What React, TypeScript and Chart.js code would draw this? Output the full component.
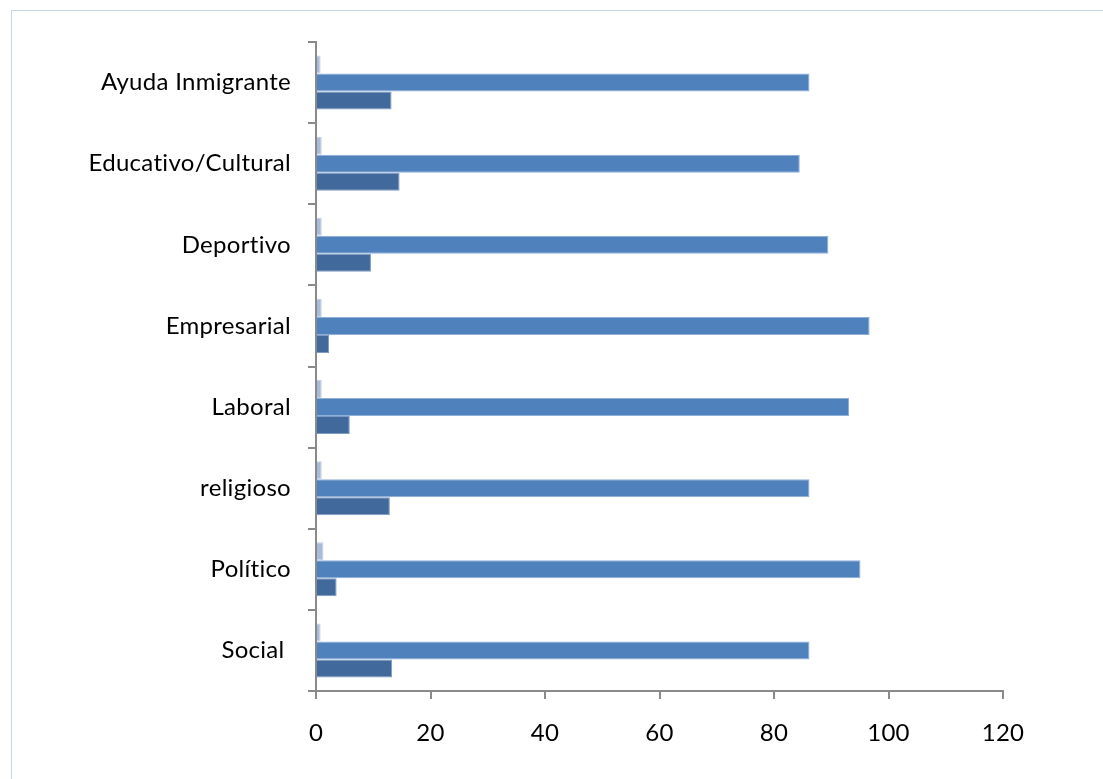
import React, { useEffect, useRef } from "react";
import { Chart, registerables } from "chart.js";

Chart.register(...registerables);

const categories = [
  "Ayuda Inmigrante",
  "Educativo/Cultural",
  "Deportivo",
  "Empresarial",
  "Laboral",
  "religioso",
  "Político",
  "Social ",
];

const seriesLight = [0.8, 1.0, 1.0, 1.0, 1.0, 1.0, 1.3, 0.8];
const seriesMain = [86.2, 84.5, 89.5, 96.7, 93.1, 86.2, 95.1, 86.2];
const seriesDark = [13.2, 14.6, 9.6, 2.3, 5.9, 12.9, 3.6, 13.3];

const xTicks = [0, 20, 40, 60, 80, 100, 120];

const FONT = "Lato";

const noLigatures = {
  id: "noLigatures",
  beforeLayout(chart: any) {
    chart.ctx.letterSpacing = "0.3px";
  },
  beforeDraw(chart: any) {
    chart.ctx.letterSpacing = "0.3px";
  },
};

export default function App() {
  const ref = useRef<HTMLCanvasElement | null>(null);

  useEffect(() => {
    if (!ref.current) return;
    const chart = new Chart(ref.current, {
      type: "bar",
      plugins: [noLigatures],
      data: {
        labels: categories,
        datasets: [
          {
            label: "s1",
            data: seriesLight,
            backgroundColor: "#AABBDA",
            borderColor: "#C3D0E6",
            borderWidth: 1,
          },
          {
            label: "s2",
            data: seriesMain,
            backgroundColor: "#4F81BD",
            borderColor: "#8FAFD8",
            borderWidth: 1,
          },
          {
            label: "s3",
            data: seriesDark,
            backgroundColor: "#41699C",
            borderColor: "#7D9BC4",
            borderWidth: 1,
          },
        ],
      },
      options: {
        indexAxis: "y",
        animation: false,
        responsive: false,
        maintainAspectRatio: false,
        datasets: {
          bar: { categoryPercentage: 0.667, barPercentage: 1.0 },
        },
        layout: { padding: { top: 42, left: 0, right: 100, bottom: 0 } },
        plugins: {
          legend: { display: false },
          tooltip: { enabled: false },
        },
        scales: {
          x: {
            type: "linear",
            min: 0,
            max: 120,
            afterBuildTicks: (scale: any) => {
              scale.ticks = xTicks.map((v) => ({ value: v }));
            },
            afterFit: (scale: any) => {
              scale.height = 88;
            },
            border: { display: true, color: "#8A8A8A", width: 2 },
            grid: {
              drawOnChartArea: false,
              drawTicks: true,
              tickLength: 8,
              color: "#8A8A8A",
              lineWidth: 2,
            },
            ticks: {
              color: "#000",
              padding: 20,
              font: { family: FONT, size: 24 },
              maxRotation: 0,
            },
          },
          y: {
            type: "category",
            afterFit: (scale: any) => {
              scale.width = 316;
            },
            border: { display: true, color: "#8A8A8A", width: 2 },
            grid: {
              offset: true,
              drawOnChartArea: false,
              drawTicks: true,
              tickLength: 8,
              color: "#8A8A8A",
              lineWidth: 2,
            },
            ticks: {
              color: "#000",
              padding: 17,
              font: { family: FONT, size: 24 },
            },
          },
        },
      },
    });
    return () => chart.destroy();
  }, []);

  return (
    <div
      style={{
        position: "absolute",
        left: 0,
        top: 0,
        width: 1103,
        height: 779,
        overflow: "hidden",
        background: "#fff",
      }}
    >
      <div
        style={{
          position: "absolute",
          left: 11,
          top: 10,
          width: 1200,
          height: 900,
          border: "1.5px solid #C6D8EF",
          boxSizing: "border-box",
        }}
      />
      <canvas
        ref={ref}
        width={1103}
        height={779}
        style={{ position: "absolute", left: 0, top: 0, width: 1103, height: 779 }}
      />
    </div>
  );
}
